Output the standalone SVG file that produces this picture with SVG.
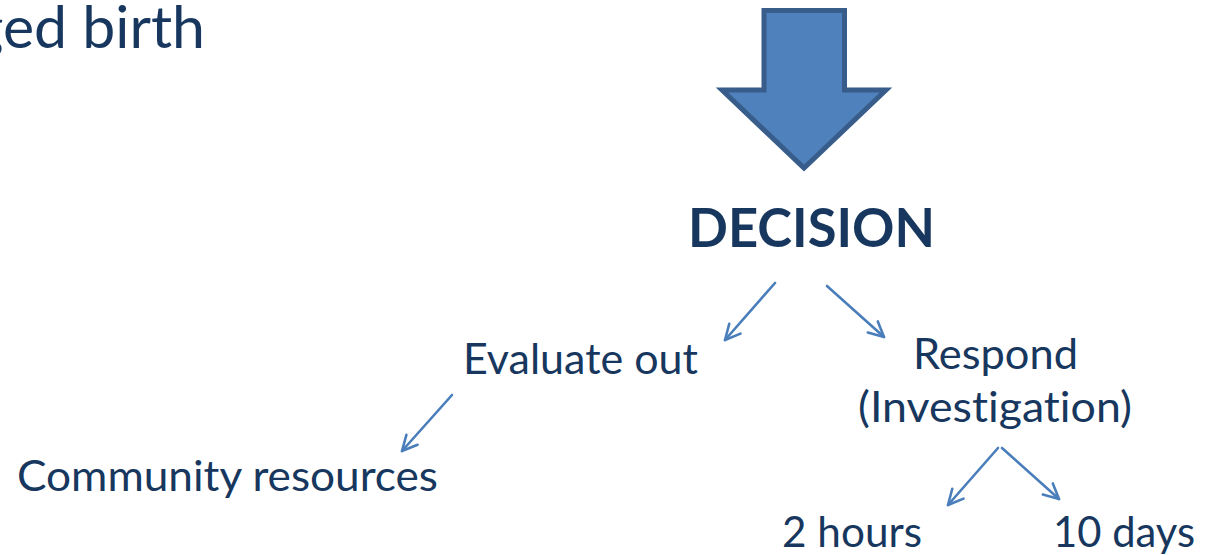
<svg xmlns="http://www.w3.org/2000/svg" width="1212" height="555" viewBox="0 0 1212 555">
<style>
.t{font-family:Lato,"Open Sans","Liberation Sans",sans-serif;fill:#17375e;font-size:42px;font-variant-ligatures:none}
.b{font-weight:bold;font-size:54px}
.c{fill:none;stroke:#4a7ebb;stroke-width:2.6;stroke-linecap:round}
</style>
<defs>
<marker id="ah" viewBox="-17 -10 20 20" refX="0" refY="0" markerWidth="20" markerHeight="20" markerUnits="userSpaceOnUse" orient="auto">
<path d="M-15,-7.5 L0,0 L-15,7.5" fill="none" stroke="#4a7ebb" stroke-width="2.6" stroke-linecap="round" stroke-linejoin="round"/>
</marker>
</defs>
<rect width="1212" height="555" fill="#ffffff"/>
<g id="title"><text class="t" x="205" y="48" text-anchor="end" style="font-size:59px">ged birth</text></g>
<g id="bigarrow"><polygon points="764,10.5 844.5,10.5 844.5,90 886,90 804,168 722,90 764,90" fill="#4f81bd" stroke="#385d8a" stroke-width="5" stroke-linejoin="miter"/></g>
<g id="decision"><text class="t b" x="688" y="247" textLength="247" lengthAdjust="spacingAndGlyphs">DECISION</text></g>
<g id="evaluate"><text class="t" x="463" y="374" textLength="235" lengthAdjust="spacingAndGlyphs">Evaluate out</text></g>
<g id="respond"><text class="t" x="913" y="369" textLength="165" lengthAdjust="spacingAndGlyphs">Respond</text><text class="t" x="858" y="422" textLength="274" lengthAdjust="spacingAndGlyphs">(Investigation)</text></g>
<g id="community"><text class="t" x="17" y="491" textLength="421" lengthAdjust="spacingAndGlyphs">Community resources</text></g>
<g id="hours"><text class="t" x="782" y="547" textLength="140" lengthAdjust="spacingAndGlyphs">2 hours</text></g>
<g id="days"><text class="t" x="1053" y="547" textLength="142" lengthAdjust="spacingAndGlyphs">10 days</text></g>
<g id="connectors">
<line class="c" x1="775" y1="283" x2="725" y2="340" marker-end="url(#ah)"/>
<line class="c" x1="827" y1="286" x2="884" y2="337" marker-end="url(#ah)"/>
<line class="c" x1="452" y1="395" x2="402" y2="451" marker-end="url(#ah)"/>
<line class="c" x1="998" y1="448" x2="948" y2="505" marker-end="url(#ah)"/>
<line class="c" x1="1002" y1="448" x2="1059" y2="499" marker-end="url(#ah)"/>
</g>
</svg>
